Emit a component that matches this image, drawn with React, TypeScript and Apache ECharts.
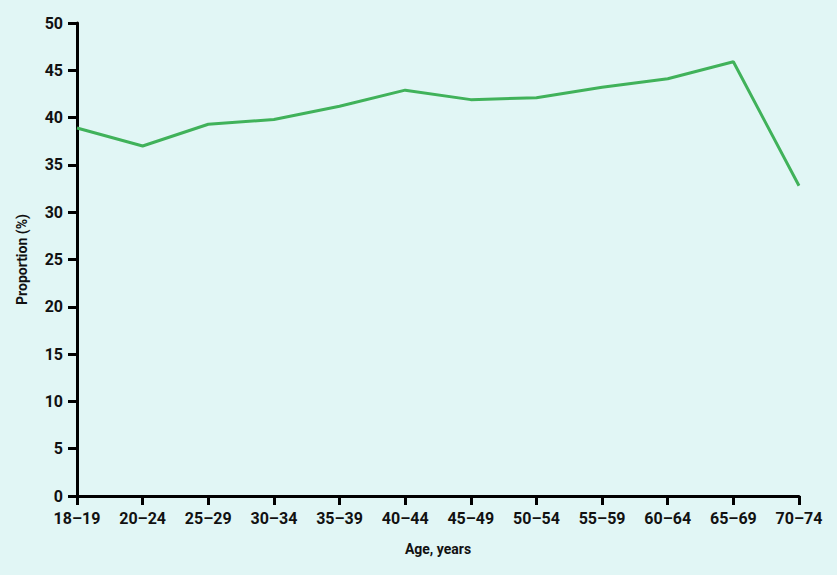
import React, { useEffect, useRef } from "react";
import * as echarts from "echarts";

const categories = ["18–19", "20–24", "25–29", "30–34", "35–39", "40–44", "45–49", "50–54", "55–59", "60–64", "65–69", "70–74"];
const proportion = [38.9, 37.0, 39.3, 39.8, 41.2, 42.9, 41.9, 42.1, 43.2, 44.1, 45.9, 32.8];

export default function App() {
  const ref = useRef<HTMLDivElement>(null);
  useEffect(() => {
    document.body.style.margin = "0";
    const chart = echarts.init(ref.current!, null, { renderer: "svg" });
    const font = "Roboto, 'DejaVu Sans', sans-serif";
    chart.setOption({
      animation: false,
      backgroundColor: "#e1f6f5",
      grid: { left: 77, right: 38, top: 23, bottom: 79, containLabel: false },
      xAxis: {
        type: "category",
        data: categories,
        boundaryGap: false,
        name: "Age, years",
        nameLocation: "middle",
        nameGap: 46,
        nameTextStyle: { color: "#111", fontSize: 14, fontWeight: "bold", fontFamily: font },
        axisLine: { lineStyle: { color: "#000", width: 3 } },
        axisTick: { alignWithLabel: true, length: 9, lineStyle: { color: "#000", width: 3 } },
        axisLabel: { color: "#111", fontSize: 16, fontWeight: "bold", fontFamily: font, margin: 14 },
        splitLine: { show: false },
      },
      yAxis: {
        type: "value",
        min: 0,
        max: 50,
        interval: 5,
        name: "Proportion (%)",
        nameLocation: "middle",
        nameGap: 48,
        nameTextStyle: { color: "#111", fontSize: 14, fontWeight: "bold", fontFamily: font },
        axisLine: { show: true, lineStyle: { color: "#000", width: 3 } },
        axisTick: { show: true, length: 9, lineStyle: { color: "#000", width: 3 } },
        axisLabel: { color: "#111", fontSize: 16, fontWeight: "bold", fontFamily: font, margin: 14 },
        splitLine: { show: false },
      },
      series: [
        {
          type: "line",
          data: proportion,
          symbol: "none",
          lineStyle: { color: "#40b25a", width: 3 },
        },
      ],
    });
    return () => chart.dispose();
  }, []);
  return <div ref={ref} style={{ width: 837, height: 575 }} />;
}
